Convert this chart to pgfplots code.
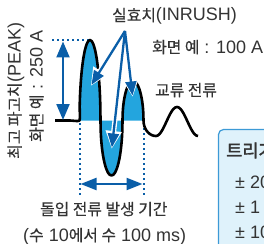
\documentclass[border=0pt]{standalone}
\usepackage{pgfplots}
\pgfplotsset{compat=1.18}
\usepackage{fontspec}
\setmainfont{Liberation Sans}
\newfontfamily\kr[Scale=0.88, FakeBold=0.3]{Noto Sans CJK KR}
\newfontfamily\krb[Scale=0.88, FakeBold=2]{Noto Sans CJK KR}
\usetikzlibrary{arrows.meta}
\definecolor{bd}{HTML}{0A5EA8}
\definecolor{fb}{HTML}{23A5DE}
\definecolor{tx}{HTML}{333333}
\definecolor{boxf}{HTML}{DFF2FB}
\definecolor{boxb}{HTML}{3C9AD6}
\begin{document}
\begin{tikzpicture}
\useasboundingbox (0,0) rectangle (264bp,244bp);
\clip (0,0) rectangle (264bp,244bp);
\begin{axis}[at={(0,0)}, anchor=south west, width=264bp, height=244bp, scale only axis, hide axis,
  xmin=0, xmax=264, ymin=0, ymax=244, y dir=reverse, clip=false]
% fill of inrush lobes
\addplot[fill=fb, draw=none] coordinates {
(79.5,120.5)(79.66,106.53)(80.13,92.97)(80.91,80.25)(81.96,68.75)(83.25,58.84)(84.75,50.79)(86.41,44.85)(88.18,41.22)(90,40)
(91.82,41.22)(93.59,44.85)(95.25,50.79)(96.75,58.84)(98.04,68.75)(99.09,80.25)(99.87,92.97)(100.34,106.53)(100.5,120.5)
(100.67,130.05)(101.16,139.31)(101.97,148)(103.07,155.85)(104.43,162.63)(106,168.13)(107.74,172.18)(109.59,174.66)(111.5,175.5)
(113.41,174.66)(115.26,172.18)(117,168.13)(118.57,162.63)(119.93,155.85)(121.03,148)(121.84,139.31)(122.33,130.05)(122.5,120.5)
(122.66,113.64)(123.13,106.99)(123.91,100.75)(124.96,95.11)(126.25,90.24)(127.75,86.29)(129.41,83.38)(131.18,81.6)(133,81)
(134.82,81.6)(136.59,83.38)(138.25,86.29)(139.75,90.24)(141.04,95.11)(142.09,100.75)(142.87,106.99)(143.34,113.64)(143.5,120.5)
} -- cycle;
% dotted guides
\addplot[bd, line width=2bp, dash pattern=on 2bp off 3bp] coordinates {(52,40)(89,40)};
\addplot[bd, line width=2bp, dash pattern=on 2bp off 3bp] coordinates {(79.5,123)(79.5,195)};
\addplot[bd, line width=2bp, dash pattern=on 2bp off 3bp] coordinates {(143.5,123)(143.5,195)};
% waveform
\addplot[black, line width=2.6bp, smooth, tension=0.3, line join=round] coordinates {
(55,120.5)(70,120.5)(79.5,120.5)(79.66,106.53)(80.13,92.97)(80.91,80.25)(81.96,68.75)(83.25,58.84)(84.75,50.79)(86.41,44.85)(88.18,41.22)(90,40)
(91.82,41.22)(93.59,44.85)(95.25,50.79)(96.75,58.84)(98.04,68.75)(99.09,80.25)(99.87,92.97)(100.34,106.53)(100.5,120.5)
(100.67,130.05)(101.16,139.31)(101.97,148)(103.07,155.85)(104.43,162.63)(106,168.13)(107.74,172.18)(109.59,174.66)(111.5,175.5)
(113.41,174.66)(115.26,172.18)(117,168.13)(118.57,162.63)(119.93,155.85)(121.03,148)(121.84,139.31)(122.33,130.05)(122.5,120.5)
(122.66,113.64)(123.13,106.99)(123.91,100.75)(124.96,95.11)(126.25,90.24)(127.75,86.29)(129.41,83.38)(131.18,81.6)(133,81)
(134.82,81.6)(136.59,83.38)(138.25,86.29)(139.75,90.24)(141.04,95.11)(142.09,100.75)(142.87,106.99)(143.34,113.64)(143.5,120.5)
(143.69,123.19)(144.25,125.8)(145.17,128.25)(146.43,130.46)(147.97,132.37)(149.75,133.92)(151.73,135.07)(153.85,135.76)(156,136)
(157.75,135.51)(159.5,134.06)(161.25,131.75)(163,128.75)(164.75,125.25)(166.5,121.5)(168.25,117.75)(170,114.25)(171.75,111.25)
(173.5,108.94)(175.25,107.49)(177,107)(178.75,107.49)(180.5,108.94)(182.25,111.25)(184,114.25)(185.75,117.75)(187.5,121.5)
(189.25,125.25)(191,128.75)(192.75,131.75)(194.5,134.06)(196.25,135.51)(198,136)
};
% double arrows
\addplot[bd, line width=2.2bp, {Triangle[length=16bp,width=13bp]}-{Triangle[length=16bp,width=13bp]}] coordinates {(63,41.5)(63,120)};
\addplot[bd, line width=2.2bp, {Triangle[length=16bp,width=12bp]}-{Triangle[length=16bp,width=12bp]}] coordinates {(80.5,184)(142.5,184)};
% INRUSH arrows: white outline then blue
\addplot[white, line width=5bp, -{Triangle[length=18bp,width=15bp]}] coordinates {(125,31)(90.7,86)};
\addplot[white, line width=5bp, -{Triangle[length=18bp,width=15bp]}] coordinates {(125,31)(111.7,149)};
\addplot[white, line width=5bp, -{Triangle[length=18bp,width=15bp]}] coordinates {(125,31)(132.7,97)};
\addplot[bd, line width=2.3bp, shorten >=1.5bp, -{Triangle[length=14bp,width=11bp]}] coordinates {(125,31)(90.7,86)};
\addplot[bd, line width=2.3bp, shorten >=1.5bp, -{Triangle[length=14bp,width=11bp]}] coordinates {(125,31)(111.7,149)};
\addplot[bd, line width=2.3bp, shorten >=1.5bp, -{Triangle[length=14bp,width=11bp]}] coordinates {(125,31)(132.7,97)};
% box
\draw[rounded corners=5bp, fill=boxf, draw=boxb, line width=1.2bp] (axis cs:218.5,129.5) rectangle (axis cs:320,270);
% texts
\begin{scope}[every node/.style={text=tx, inner sep=0pt, font=\fontsize{18bp}{20bp}\selectfont}]
\node[anchor=base west] at (axis cs:112,21) {{\kr 실효치}(INRUSH)};
\node[anchor=base west] at (axis cs:152,53) {{\kr 화면 예} : 100 A};
\node[anchor=base west] at (axis cs:155,96) {{\kr 교류 전류}};
\node[anchor=base west] at (axis cs:40,215) {{\kr 돌입 전류 발생 기간}};
\node[anchor=base west] at (axis cs:23,241) {({\kr 수} 10{\kr 에서 수} 100 ms)};
\node[anchor=base west, rotate=90] at (axis cs:20.5,159) {{\kr 최고 파고치}(PEAK)};
\node[anchor=base west, rotate=90] at (axis cs:42.5,142) {{\kr 화면 예} : 250 A};
\node[anchor=base west, font=\fontsize{20bp}{22bp}\selectfont] at (axis cs:226,157) {\krb 트리거 레벨};
\node[anchor=base west] at (axis cs:235,188) {± 200 A};
\node[anchor=base west] at (axis cs:235,213) {± 1 A};
\node[anchor=base west] at (axis cs:235,238) {± 10 A};
\end{scope}
\end{axis}
\end{tikzpicture}
\end{document}
